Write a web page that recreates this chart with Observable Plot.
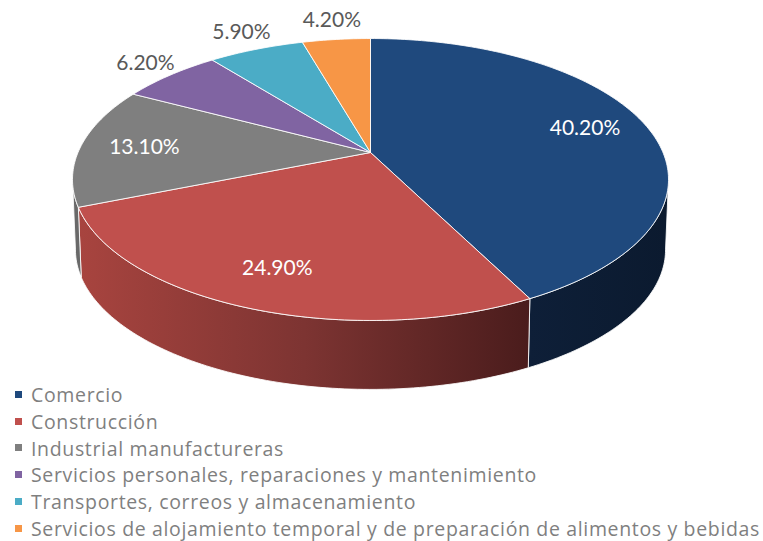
<!DOCTYPE html>
<html><head><meta charset="utf-8">
<script src="https://cdn.jsdelivr.net/npm/d3@7"></script>
<script src="https://cdn.jsdelivr.net/npm/@observablehq/plot@0.6"></script>
<style>
body{margin:0;background:#fff;}
#wrap{position:relative;width:763px;height:541px;overflow:hidden;font-family:Lato, sans-serif;}
#legend{position:absolute;left:0;top:381px;}
.row{display:flex;align-items:center;height:26.8px;color:#7f7f7f;font-family:"Open Sans", sans-serif;font-size:19.5px;white-space:nowrap;}
.sw{width:7px;height:7px;margin-left:15px;margin-right:9px;flex:none;}
</style></head><body><div id="wrap"><div id="chart"></div><div id="legend"></div></div>
<script>
const categories = ["Comercio", "Construcción", "Industrial manufactureras", "Servicios personales, reparaciones y mantenimiento", "Transportes, correos y almacenamiento", "Servicios de alojamiento temporal y de preparación de alimentos y bebidas"];
const values = [40.2, 24.9, 13.1, 6.2, 5.9, 4.2];
const valueLabels = ["40.20%", "24.90%", "13.10%", "6.20%", "5.90%", "4.20%"];
const topColors = ["#1F497D", "#C0504D", "#7F7F7F", "#8064A2", "#4BACC6", "#F79646"];
const wallColors = ["url(#wallBlue)", "url(#wallRed)", "#696969", "#4D3C62", "#2D6777", "#94592A"];

// perspective geometry (unit pie)
const k = 0.1915, depth = 0.52, sBot = 0.99;
const total = d3.sum(values);
const cum = Array.from(d3.cumsum(values));
const slices = values.map((v, i) => ({i, a0: (cum[i] - v) / total * 360, a1: cum[i] / total * 360}));
function proj(deg, r, bottom) {
  const t = deg * Math.PI / 180;
  const u = r * Math.sin(t), v = -r * Math.cos(t);
  const w = 1 - k * v;
  const s = bottom ? sBot : 1;
  return {x: s * u / w, y: s * v / w + (bottom ? depth : 0)};
}
function arc(a, b, r, bottom) {
  const n = Math.max(2, Math.ceil(Math.abs(b - a)));
  return d3.range(n + 1).map(j => proj(a + (b - a) * j / n, r, bottom));
}
const topPts = [];
slices.forEach(s => {
  const pts = [{x: 0, y: 0}, ...arc(s.a0, s.a1, 1, false), {x: 0, y: 0}];
  pts.forEach(p => topPts.push({...p, id: "t" + s.i, fill: topColors[s.i]}));
});
const thMin = Math.acos(-k) * 180 / Math.PI, thMax = 360 - thMin;
const wallPts = [];
slices.forEach(s => {
  const lo = Math.max(s.a0, thMin), hi = Math.min(s.a1, thMax);
  if (lo >= hi) return;
  const pts = [...arc(lo, hi, 1, false), ...arc(hi, lo, 1, true)];
  pts.push(pts[0]);
  pts.forEach(p => wallPts.push({...p, id: "w" + s.i, fill: wallColors[s.i]}));
});
const labelData = slices.map(s => {
  const mid = (s.a0 + s.a1) / 2, frac = values[s.i] / total;
  if (frac > 0.1) {
    const p = proj(mid, 0.78, false);
    return {...p, label: valueLabels[s.i], fill: "#ffffff"};
  }
  const p = proj(mid, 1, false), t = mid * Math.PI / 180;
  return {x: p.x + Math.sin(t) * 32 / 292.5, y: p.y - Math.cos(t) * 19 / 135.8, label: valueLabels[s.i], fill: "#595959"};
});

const defs = () => {
  const d = d3.create("svg:defs");
  const r = d.append("linearGradient").attr("id", "wallRed").attr("x1", 0).attr("x2", 1).attr("y1", 0).attr("y2", 0);
  r.append("stop").attr("offset", 0).attr("stop-color", "#A8443F");
  r.append("stop").attr("offset", 0.5).attr("stop-color", "#7D3432");
  r.append("stop").attr("offset", 1).attr("stop-color", "#4A1C1C");
  const b = d.append("linearGradient").attr("id", "wallBlue").attr("x1", 0).attr("x2", 1).attr("y1", 0).attr("y2", 0);
  b.append("stop").attr("offset", 0).attr("stop-color", "#0E1F38");
  b.append("stop").attr("offset", 1).attr("stop-color", "#0B1A2F");
  return d.node();
};

const chart = Plot.plot({
  width: 763, height: 541, margin: 0,
  x: {domain: [-1, 1], range: [77.5, 662.5], axis: null},
  y: {domain: [-1, 1], range: [16.2, 287.8], axis: null},
  color: {type: "identity"},
  style: {background: "transparent", overflow: "visible"},
  marks: [
    defs,
    Plot.line(wallPts, {x: "x", y: "y", z: "id", fill: "fill", stroke: "white", strokeWidth: 1, strokeOpacity: 0.85, curve: "linear"}),
    Plot.line(topPts, {x: "x", y: "y", z: "id", fill: "fill", stroke: "white", strokeWidth: 1, strokeOpacity: 0.85, curve: "linear"}),
    Plot.text(labelData, {x: "x", y: "y", text: "label", fill: "fill", fontSize: 21, fontFamily: "Lato", textAnchor: "middle", lineAnchor: "middle"})
  ]
});
document.getElementById("chart").appendChild(chart);

const legend = d3.select("#legend");
const spans = [];
categories.forEach((c, i) => {
  const row = legend.append("div").attr("class", "row");
  row.append("div").attr("class", "sw").style("background", topColors[i]);
  spans.push(row.append("span").text(c).node());
});
// fit the longest legend entry to the reference width
const longest = spans[spans.length - 1];
const w0 = longest.getBoundingClientRect().width;
const ls = (729 - w0) / categories[categories.length - 1].length;
spans.forEach(s => s.style.letterSpacing = ls + "px");
</script>
</body></html>
